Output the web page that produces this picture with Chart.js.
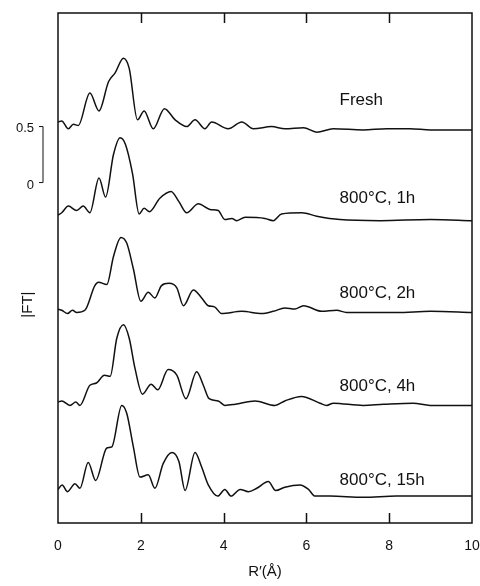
<!DOCTYPE html>
<html lang="en">
<head>
  <meta charset="UTF-8" />
  <title>|FT| vs R'</title>
  <script src="https://cdn.jsdelivr.net/npm/chart.js"></script>
  <style>
    html, body { margin: 0; padding: 0; background: #fff; }
  </style>
</head>
<body>
  <canvas id="grafico" width="480" height="586"></canvas>

  <script>
    // amostras e deslocamento vertical de cada curva (em unidades de |FT|)
    const amostras = ['Fresh', '800°C, 1h', '800°C, 2h', '800°C, 4h', '800°C, 15h'];
    const deslocamentos = [3.45, 2.65, 1.80, 0.98, 0.15];

    // R' (Å) e |FT|
    const rFresh = [0, 0.09, 0.25, 0.37, 0.49, 0.77, 0.99, 1.22, 1.38, 1.58, 1.72, 1.92, 2.08, 2.30, 2.57, 2.83, 3.11, 3.31, 3.55, 3.71, 4.11, 4.44, 4.72, 5.16, 5.48, 5.93, 6.25, 6.65, 7.37, 7.94, 8.5, 9.0, 10];
    const ftFresh = [0.13, 0.14, 0.07, 0.11, 0.10, 0.39, 0.23, 0.49, 0.57, 0.70, 0.61, 0.15, 0.23, 0.07, 0.25, 0.15, 0.09, 0.15, 0.07, 0.13, 0.07, 0.13, 0.07, 0.09, 0.07, 0.08, 0.04, 0.07, 0.06, 0.07, 0.07, 0.06, 0.06];

    const r1h = [0, 0.09, 0.25, 0.45, 0.61, 0.77, 0.99, 1.15, 1.34, 1.50, 1.63, 1.80, 1.96, 2.08, 2.21, 2.46, 2.73, 2.92, 3.11, 3.39, 3.67, 3.87, 4.03, 4.20, 4.32, 4.52, 5.0, 5.2, 5.4, 5.89, 6.25, 6.81, 7.78, 9.0, 10];
    const ft1h = [0.10, 0.12, 0.18, 0.14, 0.18, 0.12, 0.43, 0.26, 0.64, 0.79, 0.73, 0.47, 0.11, 0.16, 0.13, 0.25, 0.31, 0.22, 0.12, 0.20, 0.15, 0.14, 0.06, 0.07, 0.05, 0.08, 0.07, 0.05, 0.11, 0.12, 0.09, 0.06, 0.05, 0.06, 0.05];

    const r2h = [0, 0.09, 0.23, 0.35, 0.45, 0.65, 0.89, 0.98, 1.18, 1.34, 1.52, 1.66, 1.82, 2.0, 2.18, 2.34, 2.50, 2.68, 2.87, 3.03, 3.27, 3.47, 3.63, 3.78, 3.95, 4.44, 4.92, 5.20, 5.48, 5.72, 5.93, 6.37, 6.73, 6.97, 8.18, 9.0, 10];
    const ft2h = [0.11, 0.10, 0.07, 0.10, 0.08, 0.10, 0.32, 0.35, 0.33, 0.58, 0.75, 0.70, 0.47, 0.18, 0.26, 0.21, 0.32, 0.34, 0.30, 0.14, 0.28, 0.21, 0.14, 0.13, 0.07, 0.09, 0.07, 0.09, 0.12, 0.11, 0.14, 0.09, 0.10, 0.08, 0.08, 0.09, 0.08];

    const r4h = [0, 0.09, 0.29, 0.43, 0.53, 0.77, 0.93, 1.12, 1.26, 1.42, 1.58, 1.72, 1.86, 2.04, 2.25, 2.41, 2.66, 2.87, 3.09, 3.35, 3.51, 3.65, 3.87, 4.03, 4.28, 4.76, 5.24, 5.48, 5.88, 6.33, 6.49, 6.65, 7.37, 7.86, 8.58, 8.99, 10];
    const ft4h = [0.10, 0.11, 0.07, 0.10, 0.07, 0.25, 0.27, 0.34, 0.33, 0.67, 0.79, 0.67, 0.40, 0.17, 0.26, 0.21, 0.39, 0.34, 0.13, 0.37, 0.25, 0.13, 0.11, 0.07, 0.08, 0.11, 0.07, 0.11, 0.15, 0.09, 0.07, 0.09, 0.07, 0.08, 0.09, 0.07, 0.07];

    const r15h = [0, 0.10, 0.23, 0.41, 0.53, 0.73, 0.91, 1.18, 1.30, 1.54, 1.66, 1.82, 1.98, 2.18, 2.34, 2.54, 2.75, 2.92, 3.07, 3.31, 3.47, 3.63, 3.86, 4.03, 4.18, 4.40, 4.60, 4.80, 5.08, 5.26, 5.48, 5.85, 6.05, 6.21, 6.57, 7.37, 8.18, 8.99, 10];
    const ft15h = [0.15, 0.19, 0.13, 0.20, 0.16, 0.39, 0.23, 0.52, 0.53, 0.90, 0.83, 0.53, 0.26, 0.28, 0.16, 0.38, 0.48, 0.40, 0.14, 0.48, 0.35, 0.19, 0.09, 0.15, 0.09, 0.15, 0.13, 0.16, 0.22, 0.14, 0.17, 0.19, 0.15, 0.09, 0.09, 0.08, 0.09, 0.09, 0.09];

    const ticksX = [0, 2, 4, 6, 8, 10];

    const series = [[rFresh, ftFresh], [r1h, ft1h], [r2h, ft2h], [r4h, ft4h], [r15h, ft15h]];

    // posição dos rótulos e da barra de escala (unidades do eixo)
    const rotuloR = 6.8;
    const rotuloY = [3.77, 2.90, 2.05, 1.22, 0.38];
    const barraBase = 3.04;

    const fonte = '"Liberation Sans", Arial, Helvetica, sans-serif';

    const moldura = {
      id: 'moldura',
      afterDatasetsDraw(chart) {
        const { ctx, chartArea: a, scales: { x, y } } = chart;
        ctx.save();
        ctx.strokeStyle = '#111';
        ctx.fillStyle = '#111';
        ctx.lineWidth = 1.5;
        ctx.strokeRect(a.left, a.top, a.right - a.left, a.bottom - a.top);

        // marcas internas em cima e embaixo
        ctx.beginPath();
        ticksX.slice(1, -1).forEach(v => {
          const px = Math.round(x.getPixelForValue(v)) + 0.5;
          ctx.moveTo(px, a.bottom); ctx.lineTo(px, a.bottom - 10);
          ctx.moveTo(px, a.top); ctx.lineTo(px, a.top + 10);
        });
        ctx.stroke();

        // barra de escala 0 - 0.5
        const y0 = y.getPixelForValue(barraBase);
        const y1 = y.getPixelForValue(barraBase + 0.5);
        ctx.lineWidth = 1;
        ctx.beginPath();
        ctx.moveTo(39, y1); ctx.lineTo(43, y1); ctx.lineTo(43, y0); ctx.lineTo(39, y0);
        ctx.stroke();
        ctx.font = '13px ' + fonte;
        ctx.textAlign = 'right';
        ctx.textBaseline = 'middle';
        ctx.fillText('0.5', 34, y1 + 2);
        ctx.fillText('0', 34, y0 + 3);

        // |FT|
        ctx.save();
        ctx.translate(28, y.getPixelForValue(1.95));
        ctx.rotate(-Math.PI / 2);
        ctx.textAlign = 'center';
        ctx.font = '15px ' + fonte;
        ctx.fillText('|FT|', 0, 0);
        ctx.restore();

        // rótulos das amostras
        ctx.font = '17px ' + fonte;
        ctx.textAlign = 'left';
        amostras.forEach((nome, i) => {
          ctx.fillText(nome, x.getPixelForValue(rotuloR), y.getPixelForValue(rotuloY[i]));
        });
        ctx.restore();
      }
    };

    new Chart(document.getElementById('grafico'), {
      type: 'line',
      data: {
        datasets: series.map(([r, ft], i) => ({
          label: amostras[i],
          data: r.map((v, j) => ({ x: v, y: ft[j] + deslocamentos[i] })),
          borderColor: '#111',
          borderWidth: 1.5,
          pointRadius: 0,
          cubicInterpolationMode: 'monotone',
          fill: false
        }))
      },
      options: {
        responsive: false,
        animation: false,
        layout: { padding: { left: 58, right: 8, top: 13, bottom: 0 } },
        plugins: { legend: { display: false }, tooltip: { enabled: false } },
        scales: {
          x: {
            type: 'linear',
            min: 0,
            max: 10,
            grid: { display: false, drawTicks: false },
            border: { display: false },
            afterFit: s => { s.height = 63; s.paddingLeft = 0; s.paddingRight = 0; },
            afterBuildTicks: s => { s.ticks = ticksX.map(v => ({ value: v })); },
            ticks: { color: '#111', padding: 15, font: { family: fonte, size: 14 } },
            title: {
              display: true,
              text: 'R\u2032(Å)',
              color: '#111',
              font: { family: fonte, size: 15 },
              padding: { top: 0, bottom: 5 }
            }
          },
          y: { display: false, min: 0, max: 4.554 }
        }
      },
      plugins: [moldura]
    });
  </script>
</body>
</html>
